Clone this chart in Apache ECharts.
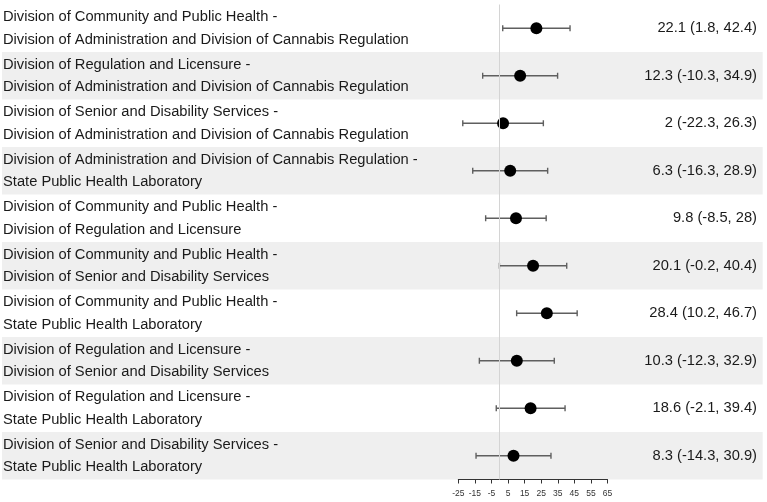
<!DOCTYPE html>
<html>
<head>
<meta charset="utf-8">
<script src="https://cdn.jsdelivr.net/npm/echarts@6/dist/echarts.min.js"></script>
<style>
html,body{margin:0;padding:0;background:#fff;}
#c{width:767px;height:502px;}
</style>
</head>
<body>
<div id="c"></div>
<script>
const categories = [
  "Division of Community and Public Health -\nDivision of Administration and Division of Cannabis Regulation",
  "Division of Regulation and Licensure -\nDivision of Administration and Division of Cannabis Regulation",
  "Division of Senior and Disability Services -\nDivision of Administration and Division of Cannabis Regulation",
  "Division of Administration and Division of Cannabis Regulation -\nState Public Health Laboratory",
  "Division of Community and Public Health -\nDivision of Regulation and Licensure",
  "Division of Community and Public Health -\nDivision of Senior and Disability Services",
  "Division of Community and Public Health -\nState Public Health Laboratory",
  "Division of Regulation and Licensure -\nDivision of Senior and Disability Services",
  "Division of Regulation and Licensure -\nState Public Health Laboratory",
  "Division of Senior and Disability Services -\nState Public Health Laboratory"
];
const estimates = [22.1, 12.3, 2, 6.3, 9.8, 20.1, 28.4, 10.3, 18.6, 8.3];
const lowers = [1.8, -10.3, -22.3, -16.3, -8.5, -0.2, 10.2, -12.3, -2.1, -14.3];
const uppers = [42.4, 34.9, 26.3, 28.9, 28, 40.4, 46.7, 32.9, 39.4, 30.9];
const ciLabels = estimates.map((e, i) => e + " (" + lowers[i] + ", " + uppers[i] + ")");
const xTicks = [-25, -15, -5, 5, 15, 25, 35, 45, 55, 65];

const FONT = '"Liberation Sans", Arial, sans-serif';
const chart = echarts.init(document.getElementById('c'), null, {renderer: 'canvas'});

const option = {
  animation: false,
  backgroundColor: '#ffffff',
  grid: [
    {left: 458, right: 159.5, top: 4.5, bottom: 22.5},
    {left: 2, right: 4.3, top: 4.5, bottom: 22.5}
  ],
  xAxis: [
    {
      gridIndex: 0, type: 'value', min: -25, max: 65, interval: 10,
      axisLine: {show: true, onZero: false, lineStyle: {color: '#333', width: 1}},
      axisTick: {show: true, length: 4, lineStyle: {color: '#333'}},
      axisLabel: {show: true, fontSize: 8.5, color: '#333', margin: 10, fontFamily: FONT,
        formatter: v => (xTicks.indexOf(v) >= 0 ? String(v) : '')},
      splitLine: {show: false}
    },
    {gridIndex: 1, type: 'value', min: 0, max: 1, show: false}
  ],
  yAxis: [
    {
      gridIndex: 0, type: 'category', data: categories, inverse: true,
      axisLine: {show: false}, axisTick: {show: false}, splitLine: {show: false},
      axisLabel: {show: true, interval: 0, showMinLabel: true, showMaxLabel: true,
        align: 'left', margin: 455.3, fontSize: 14.7, lineHeight: 22.5,
        color: '#1a1a1a', fontFamily: FONT}
    },
    {
      gridIndex: 0, type: 'category', data: ciLabels, inverse: true, position: 'right',
      axisLine: {show: false}, axisTick: {show: false}, splitLine: {show: false},
      axisLabel: {show: true, interval: 0, showMinLabel: true, showMaxLabel: true,
        align: 'right', margin: 149.5, fontSize: 14.7,
        color: '#1a1a1a', fontFamily: FONT}
    },
    {
      gridIndex: 1, type: 'category', data: categories, inverse: true,
      axisLine: {show: false}, axisTick: {show: false}, axisLabel: {show: false},
      splitLine: {show: false},
      splitArea: {show: true, areaStyle: {color: ['rgba(255,255,255,0)', '#efefef']}}
    }
  ],
  series: [
    {
      type: 'custom', xAxisIndex: 0, yAxisIndex: 0, z: 3,
      data: categories.map((c, i) => [lowers[i], uppers[i], i]),
      renderItem: function (params, api) {
        const a = api.coord([api.value(0), api.value(2)]);
        const b = api.coord([api.value(1), api.value(2)]);
        const h = 3;
        const st = {stroke: '#5f5f5f', lineWidth: 1.4};
        return {type: 'group', children: [
          {type: 'line', shape: {x1: a[0], y1: a[1], x2: b[0], y2: b[1]}, style: st},
          {type: 'line', shape: {x1: a[0], y1: a[1] - h, x2: a[0], y2: a[1] + h}, style: st},
          {type: 'line', shape: {x1: b[0], y1: b[1] - h, x2: b[0], y2: b[1] + h}, style: st}
        ]};
      },
      encode: {x: [0, 1], y: 2}
    },
    {
      type: 'scatter', xAxisIndex: 0, yAxisIndex: 0, z: 4,
      symbol: 'circle', symbolSize: 12,
      itemStyle: {color: '#000', opacity: 1},
      data: estimates.map((e, i) => [e, i]),
      markLine: {
        silent: true, symbol: ['none', 'none'], label: {show: false},
        lineStyle: {color: '#d4d4d4', width: 1, type: 'solid'},
        data: [{xAxis: 0}]
      }
    }
  ]
};
chart.setOption(option);
</script>
</body>
</html>
